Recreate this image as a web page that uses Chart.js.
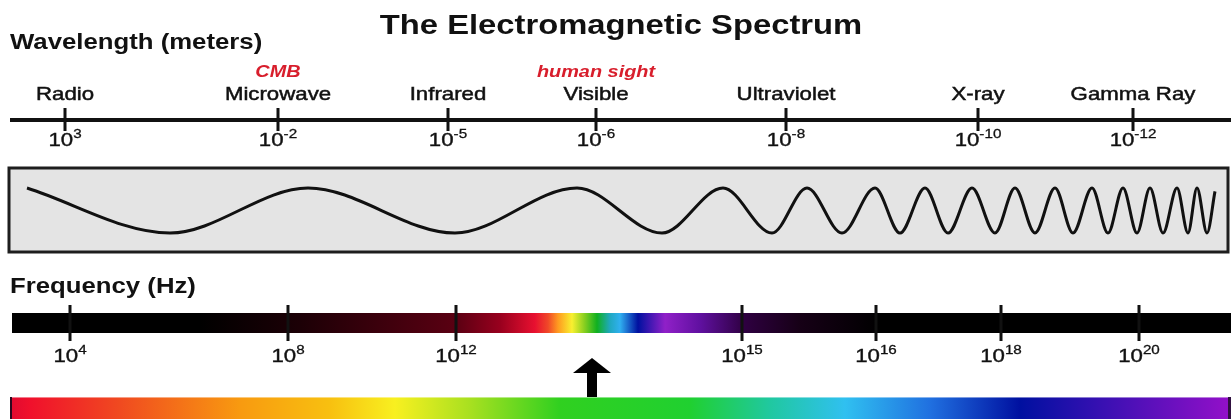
<!DOCTYPE html>
<html>
<head>
<meta charset="utf-8">
<script src="https://cdn.jsdelivr.net/npm/chart.js@4.4.1/dist/chart.umd.min.js"></script>
<style>
  html, body { margin: 0; padding: 0; background: #fff; }
  canvas { display: block; }
</style>
</head>
<body>
<canvas id="spectrum" width="1231" height="419"></canvas>
<script>
// band names along the wavelength axis, with the red notes above two of them
var bandNames = ["Radio", "Microwave", "Infrared", "Visible", "Ultraviolet", "X-ray", "Gamma Ray"];
var bandNotes = ["", "CMB", "", "human sight", "", "", ""];
// exponents of the tick labels (10^n)
var wavelengthExp = ["3", "-2", "-5", "-6", "-8", "-10", "-12"];
var frequencyExp = ["4", "8", "12", "15", "16", "18", "20"];
// crests and troughs of the drawn wave
var waveX = [27, 170, 308, 455, 577, 662, 723, 772, 807, 842, 875, 900, 925, 948, 972, 995,
             1015, 1035, 1055, 1073, 1092, 1108, 1123, 1137, 1150, 1163, 1177, 1188, 1197, 1207, 1215];
var waveY = [1, -1, 1, -1, 1, -1, 1, -1, 1, -1, 1, -1, 1, -1, 1, -1,
             1, -1, 1, -1, 1, -1, 1, -1, 1, -1, 1, -1, 1, -1, 0.85];

// layout (canvas x positions of the ticks, rows of the strips)
var wlTickX = [65, 278, 448, 596, 786, 978, 1133];
var fqTickX = [70, 288, 456, 742, 876, 1001, 1139];
var SX = 1.17; // the source art is stretched sideways a bit
var FONT = 'Arial, "Liberation Sans", sans-serif';

var freqStops = [[12, "#000000"], [200, "#000000"], [300, "#1c0006"], [456, "#5a0012"], [500, "#98001e"],
  [535, "#e81030"], [548, "#f04828"], [558, "#ff9a20"], [572, "#f8f030"], [584, "#8cd020"],
  [597, "#10b020"], [610, "#20a8c0"], [620, "#30b0f0"], [638, "#0010a0"], [665, "#9020c8"],
  [700, "#6010a0"], [745, "#2e0040"], [800, "#160016"], [880, "#000000"], [1231, "#000000"]];
var rainbowStops = [[10, "#e00a30"], [30, "#f0102c"], [120, "#f04a20"], [240, "#f89a10"], [330, "#f8c010"],
  [395, "#f8f020"], [470, "#a8e020"], [560, "#30d020"], [690, "#20d030"], [770, "#20c8a0"],
  [845, "#30c0f0"], [930, "#2070e0"], [1020, "#0010a0"], [1090, "#3010b0"], [1225, "#9010c8"]];

function txt(ctx, s, x, y, font, color, align, heavy) {
  ctx.save();
  ctx.font = font;
  ctx.fillStyle = color;
  ctx.strokeStyle = color;
  ctx.textBaseline = "middle";
  ctx.textAlign = "left";
  var w = ctx.measureText(s).width * SX;
  var x0 = align === "left" ? x : (align === "center" ? x - w / 2 : x - w);
  ctx.translate(x0, y);
  ctx.scale(SX, 1);
  ctx.fillText(s, 0, 0);
  if (heavy) {
    ctx.lineWidth = heavy;
    ctx.strokeText(s, 0, 0);
  }
  ctx.restore();
}

function power(ctx, exp, x, y) {
  ctx.save();
  ctx.font = "19px " + FONT;
  var wb = ctx.measureText("10").width * SX;
  ctx.font = "13px " + FONT;
  var we = ctx.measureText(exp).width * SX;
  ctx.restore();
  var x0 = x - (wb + we) / 2;
  txt(ctx, "10", x0, y, "19px " + FONT, "#111", "left", 0.4);
  txt(ctx, exp, x0 + wb, y - 7, "13px " + FONT, "#111", "left", 0.3);
}

function gradient(ctx, xs, stops, x0, x1) {
  var g = ctx.createLinearGradient(xs.getPixelForValue(x0), 0, xs.getPixelForValue(x1), 0);
  stops.forEach(function (s) { g.addColorStop((s[0] - x0) / (x1 - x0), s[1]); });
  return g;
}

var boxPlugin = {
  id: "box",
  beforeDatasetsDraw: function (chart) {
    var ctx = chart.ctx, xs = chart.scales.x;
    var l = xs.getPixelForValue(9), r = xs.getPixelForValue(1228);
    ctx.save();
    ctx.fillStyle = "#e4e4e4";
    ctx.fillRect(l, 168, r - l, 84);
    ctx.lineWidth = 3;
    ctx.strokeStyle = "#1e1e1e";
    ctx.strokeRect(l, 168, r - l, 84);
    ctx.restore();
  }
};

var artPlugin = {
  id: "art",
  afterDatasetsDraw: function (chart) {
    var ctx = chart.ctx, xs = chart.scales.x;
    var i, px;

    txt(ctx, "The Electromagnetic Spectrum", 621, 26, "bold 28px " + FONT, "#111", "center");
    txt(ctx, "Wavelength (meters)", 10, 43, "bold 22px " + FONT, "#111", "left");

    // wavelength axis
    ctx.save();
    ctx.fillStyle = "#111";
    ctx.fillRect(xs.getPixelForValue(10), 118, xs.getPixelForValue(1231) - xs.getPixelForValue(10), 4);
    for (i = 0; i < wlTickX.length; i++) {
      px = xs.getPixelForValue(wlTickX[i]);
      ctx.fillRect(px - 1.5, 108, 3, 23);
    }
    ctx.restore();
    for (i = 0; i < bandNames.length; i++) {
      px = xs.getPixelForValue(wlTickX[i]);
      txt(ctx, bandNames[i], px, 95, "19px " + FONT, "#111", "center", 0.5);
      if (bandNotes[i]) txt(ctx, bandNotes[i], px, 72, "italic bold 17px " + FONT, "#d81e2c", "center");
      power(ctx, wavelengthExp[i], px, 141);
    }

    // frequency strip
    txt(ctx, "Frequency (Hz)", 10, 287, "bold 22px " + FONT, "#111", "left");
    ctx.save();
    ctx.fillStyle = gradient(ctx, xs, freqStops, 12, 1231);
    ctx.fillRect(xs.getPixelForValue(12), 313, xs.getPixelForValue(1231) - xs.getPixelForValue(12), 20);
    ctx.fillStyle = "#111";
    for (i = 0; i < fqTickX.length; i++) {
      px = xs.getPixelForValue(fqTickX[i]);
      ctx.fillRect(px - 1.5, 305, 3, 36);
    }
    ctx.restore();
    for (i = 0; i < frequencyExp.length; i++) {
      power(ctx, frequencyExp[i], xs.getPixelForValue(fqTickX[i]), 357);
    }

    // arrow pointing at the visible part
    var ax = xs.getPixelForValue(592);
    ctx.save();
    ctx.fillStyle = "#000";
    ctx.fillRect(ax - 5, 371, 10, 27);
    ctx.beginPath();
    ctx.moveTo(ax - 19, 373);
    ctx.lineTo(ax, 358);
    ctx.lineTo(ax + 19, 373);
    ctx.closePath();
    ctx.fill();

    // rainbow strip at the bottom
    ctx.fillStyle = gradient(ctx, xs, rainbowStops, 10, 1231);
    ctx.fillRect(xs.getPixelForValue(10), 397, xs.getPixelForValue(1231) - xs.getPixelForValue(10), 22);
    ctx.fillStyle = "rgba(255,255,255,0.45)";
    ctx.fillRect(xs.getPixelForValue(10), 397, xs.getPixelForValue(1231) - xs.getPixelForValue(10), 1);
    ctx.fillStyle = "#2a0a20";
    ctx.fillRect(xs.getPixelForValue(10), 397, 2, 22);
    ctx.fillStyle = "#301040";
    ctx.fillRect(xs.getPixelForValue(1228), 397, 3, 22);
    ctx.restore();
  }
};

new Chart("spectrum", {
  type: "line",
  data: {
    datasets: [{
      data: waveX.map(function (x, i) { return { x: x, y: waveY[i] }; }),
      borderColor: "#111111",
      borderWidth: 3,
      pointRadius: 0,
      fill: false,
      cubicInterpolationMode: "monotone"
    }]
  },
  options: {
    responsive: false,
    animation: false,
    layout: { padding: 0 },
    plugins: { legend: { display: false }, tooltip: { enabled: false } },
    scales: {
      x: { type: "linear", min: 0, max: 1231, display: false },
      y: { min: -9.265, max: 9.355, display: false }
    }
  },
  plugins: [boxPlugin, artPlugin]
});
</script>
</body>
</html>
